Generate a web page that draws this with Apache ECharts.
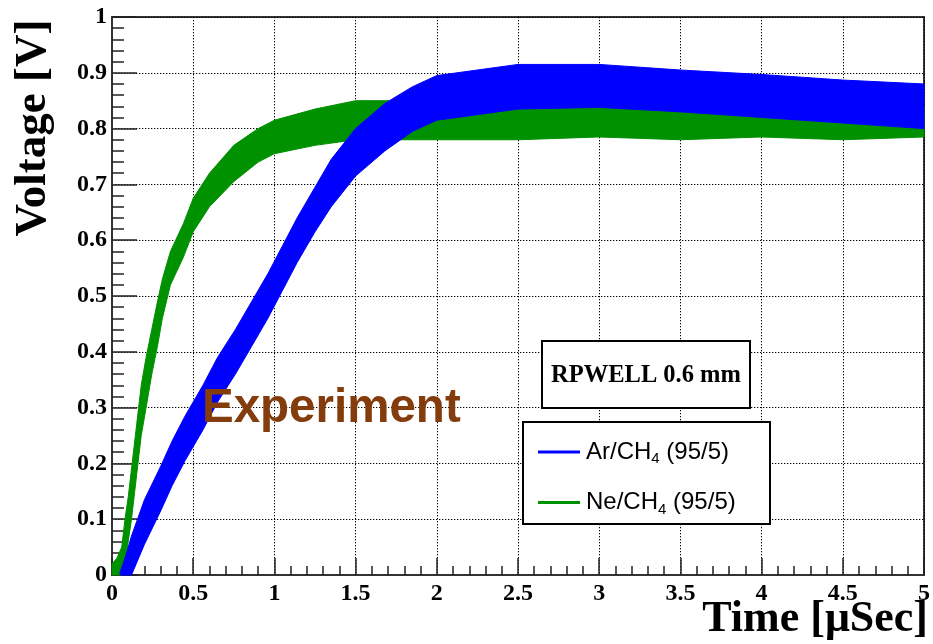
<!DOCTYPE html>
<html>
<head>
<meta charset="utf-8">
<script src="https://cdn.jsdelivr.net/npm/echarts@6/dist/echarts.min.js"></script>
<style>
html,body{margin:0;padding:0;background:#fff;}
#chart{width:933px;height:644px;}
</style>
</head>
<body>
<div id="chart"></div>
<script>
// ---- Data (band envelopes of the noisy traces) ----
var seriesNames = ['Ar/CH4 (95/5)', 'Ne/CH4 (95/5)'];

// Ne/CH4 (95/5) : green band
var neTime = [0, 0.03, 0.06, 0.08, 0.1, 0.12, 0.14, 0.16, 0.18, 0.21, 0.245, 0.28, 0.31, 0.36, 0.44, 0.5, 0.6, 0.75, 0.9, 1.0, 1.25, 1.5, 1.75, 2.0, 2.5, 3.0, 3.5, 4.0, 4.5, 5.0];
var neLow  = [0, 0, 0, 0.02, 0.06, 0.1, 0.15, 0.2, 0.25, 0.3, 0.36, 0.41, 0.46, 0.52, 0.57, 0.615, 0.66, 0.705, 0.74, 0.755, 0.77, 0.78, 0.78, 0.78, 0.78, 0.785, 0.78, 0.785, 0.78, 0.785];
var neHigh = [0.02, 0.03, 0.05, 0.1, 0.14, 0.19, 0.24, 0.29, 0.34, 0.39, 0.44, 0.49, 0.53, 0.58, 0.63, 0.675, 0.72, 0.77, 0.80, 0.815, 0.835, 0.85, 0.85, 0.85, 0.85, 0.845, 0.845, 0.845, 0.84, 0.84];

// Ar/CH4 (95/5) : blue band
var arTime = [0.05, 0.08, 0.12, 0.2, 0.3, 0.37, 0.45, 0.56, 0.65, 0.76, 0.86, 0.96, 1.05, 1.14, 1.25, 1.35, 1.5, 1.68, 1.85, 2.0, 2.25, 2.5, 3.0, 3.5, 4.0, 4.5, 5.0];
var arLow  = [0, 0, 0, 0.055, 0.115, 0.16, 0.205, 0.26, 0.31, 0.36, 0.41, 0.46, 0.51, 0.56, 0.615, 0.66, 0.715, 0.76, 0.795, 0.815, 0.825, 0.835, 0.838, 0.83, 0.82, 0.81, 0.80];
var arHigh = [0.005, 0.03, 0.07, 0.135, 0.195, 0.24, 0.285, 0.34, 0.39, 0.44, 0.49, 0.54, 0.59, 0.64, 0.695, 0.745, 0.80, 0.845, 0.875, 0.895, 0.905, 0.915, 0.915, 0.905, 0.897, 0.887, 0.88];

var xTickLabels = ['0', '0.5', '1', '1.5', '2', '2.5', '3', '3.5', '4', '4.5', '5'];
var yTickLabels = ['0', '0.1', '0.2', '0.3', '0.4', '0.5', '0.6', '0.7', '0.8', '0.9', '1'];

// ---- Chart ----
var AR_COLOR = '#0000ff';
var NE_COLOR = '#009100';
var SERIF = '"Liberation Serif", "Times New Roman", serif';
var SANS = '"Liberation Sans", Arial, sans-serif';

function bandSeries(name, color, xs, lo, hi, z) {
  var data = [];
  for (var i = 0; i < xs.length; i++) data.push([xs[i], lo[i], hi[i]]);
  return {
    type: 'custom',
    name: name,
    z: z,
    coordinateSystem: 'cartesian2d',
    itemStyle: { color: color },
    encode: { x: 0, y: [1, 2] },
    data: data,
    silent: true,
    renderItem: function (params, api) {
      if (params.dataIndex !== 0) return null;
      var pts = [];
      for (var i = 0; i < xs.length; i++) pts.push(api.coord([xs[i], hi[i]]));
      for (var j = xs.length - 1; j >= 0; j--) pts.push(api.coord([xs[j], lo[j]]));
      return {
        type: 'polygon',
        shape: { points: pts },
        style: { fill: color, stroke: color, lineWidth: 1, lineJoin: 'round' }
      };
    }
  };
}

function tickFmt(labels, step) {
  return function (v) {
    var idx = Math.round(v / step);
    return labels[idx] !== undefined ? labels[idx] : '';
  };
}

var chart = echarts.init(document.getElementById('chart'), null, { renderer: 'canvas' });

var option = {
  backgroundColor: '#ffffff',
  animation: false,
  grid: {
    left: 112, right: 5, top: 17, bottom: 69,
    show: true, borderColor: '#333', borderWidth: 2, backgroundColor: 'transparent'
  },
  xAxis: {
    type: 'value', min: 0, max: 5, interval: 0.5,
    axisLine: { show: true, onZero: false, lineStyle: { color: '#333', width: 2 } },
    axisTick: { show: true, inside: true, length: 17, lineStyle: { color: '#222', width: 1.5 } },
    minorTick: { show: true, splitNumber: 5, length: 9, lineStyle: { color: '#222', width: 1.5 } },
    axisLabel: {
      margin: 7, color: '#000', fontFamily: SERIF, fontWeight: 'bold', fontSize: 24,
      formatter: tickFmt(xTickLabels, 0.5), showMinLabel: true, showMaxLabel: true
    },
    splitLine: { show: true, lineStyle: { color: '#000', width: 1, type: [1.3, 1.7] } }
  },
  yAxis: {
    type: 'value', min: 0, max: 1, interval: 0.1,
    axisLine: { show: true, onZero: false, lineStyle: { color: '#333', width: 2 } },
    axisTick: { show: true, inside: true, length: 25, lineStyle: { color: '#222', width: 1.5 } },
    minorTick: { show: true, splitNumber: 5, length: 12, lineStyle: { color: '#222', width: 1.5 } },
    axisLabel: {
      margin: 5, color: '#000', fontFamily: SERIF, fontWeight: 'bold', fontSize: 24,
      formatter: tickFmt(yTickLabels, 0.1), showMinLabel: true, showMaxLabel: true
    },
    splitLine: { show: true, lineStyle: { color: '#000', width: 1, type: [1.3, 1.7] } }
  },
  legend: {
    show: true,
    orient: 'vertical',
    left: 533, top: 435,
    z: 20,
    itemWidth: 42, itemHeight: 3,
    itemGap: 24,
    icon: 'rect',
    data: [
      { name: seriesNames[0], itemStyle: { color: AR_COLOR } },
      { name: seriesNames[1], itemStyle: { color: NE_COLOR } }
    ],
    formatter: function (name) {
      var parts = name.split('CH4');
      return '{a|' + parts[0] + 'CH}{s|4}{a|' + parts[1] + '}';
    },
    textStyle: {
      padding: [0, 0, 0, 1],
      rich: {
        a: { fontFamily: SANS, fontSize: 24, color: '#000', lineHeight: 29 },
        s: { fontFamily: SANS, fontSize: 15, color: '#000', lineHeight: 15, verticalAlign: 'bottom' }
      }
    }
  },
  graphic: [
    {
      type: 'rect', z: 15,
      shape: { x: 542, y: 341, width: 208, height: 67 },
      style: { fill: '#fff', stroke: '#000', lineWidth: 2 }
    },
    {
      type: 'text', z: 16, x: 646, y: 376,
      style: { text: 'RPWELL 0.6 mm', fontFamily: SERIF, fontWeight: 'bold', fontSize: 24.5, fill: '#000', align: 'center', verticalAlign: 'middle' }
    },
    {
      type: 'rect', z: 15,
      shape: { x: 523, y: 422, width: 247, height: 102 },
      style: { fill: '#fff', stroke: '#000', lineWidth: 2 }
    },
    {
      type: 'text', z: 16, x: 202, y: 409,
      style: { text: 'Experiment', fontFamily: SANS, fontWeight: 'bold', fontSize: 47.5, fill: '#843c0c', align: 'left', verticalAlign: 'middle' }
    },
    {
      type: 'text', z: 16, x: 33, y: 128, rotation: Math.PI / 2,
      style: { text: 'Voltage [V]', fontFamily: SERIF, fontWeight: 'bold', fontSize: 45, fill: '#000', align: 'center', verticalAlign: 'middle' }
    },
    {
      type: 'text', z: 16, x: 928, y: 620,
      style: { text: 'Time [\u03bcSec]', fontFamily: SERIF, fontWeight: 'bold', fontSize: 44, fill: '#000', align: 'right', verticalAlign: 'middle' }
    }
  ],
  series: [
    bandSeries(seriesNames[1], NE_COLOR, neTime, neLow, neHigh, 2),
    bandSeries(seriesNames[0], AR_COLOR, arTime, arLow, arHigh, 3)
  ]
};

chart.setOption(option);
</script>
</body>
</html>
